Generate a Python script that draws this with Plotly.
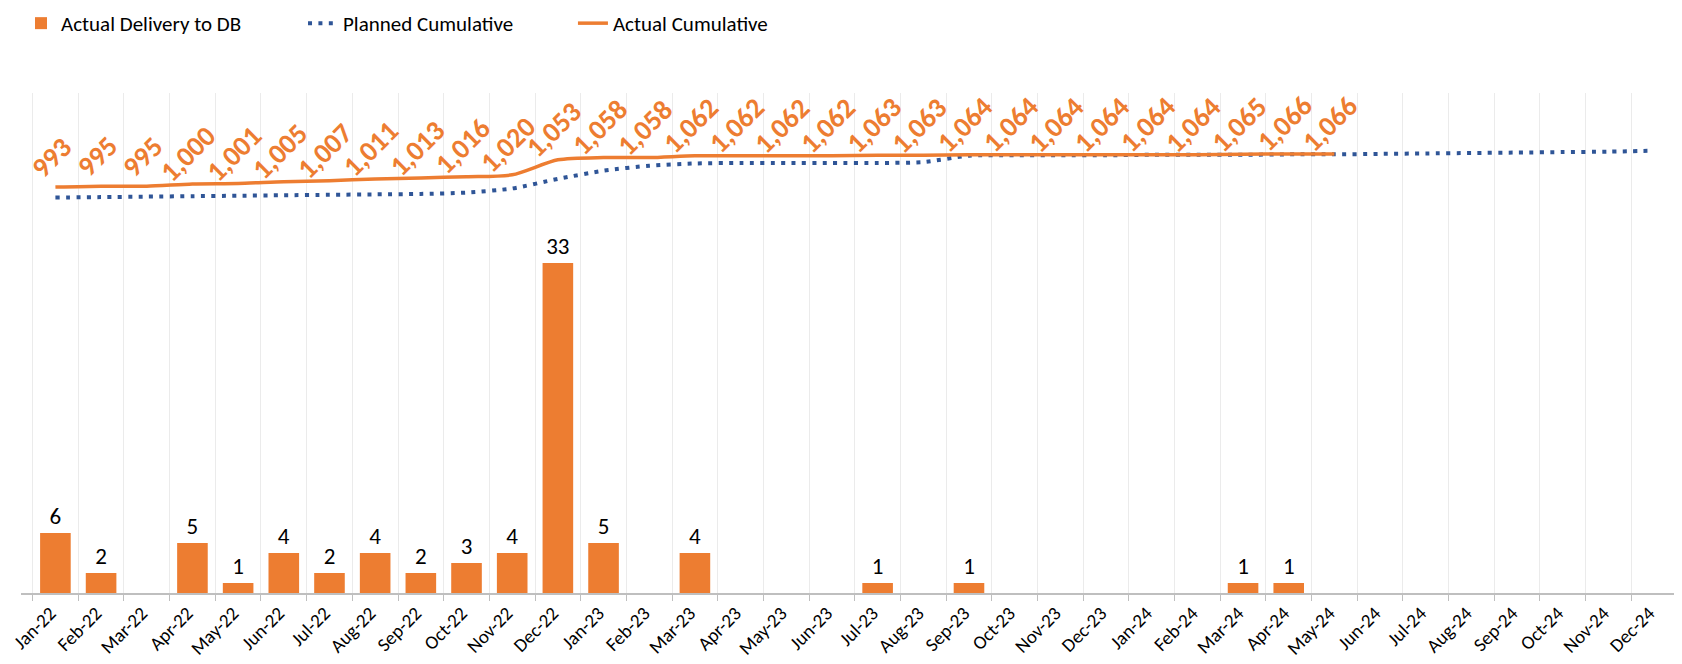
import plotly.graph_objects as go

months = ["Jan-22","Feb-22","Mar-22","Apr-22","May-22","Jun-22","Jul-22","Aug-22","Sep-22","Oct-22","Nov-22","Dec-22",
          "Jan-23","Feb-23","Mar-23","Apr-23","May-23","Jun-23","Jul-23","Aug-23","Sep-23","Oct-23","Nov-23","Dec-23",
          "Jan-24","Feb-24","Mar-24","Apr-24","May-24","Jun-24","Jul-24","Aug-24","Sep-24","Oct-24","Nov-24","Dec-24"]

delivery = [6, 2, None, 5, 1, 4, 2, 4, 2, 3, 4, 33,
            5, None, 4, None, None, None, 1, None, 1, None, None, None,
            None, None, 1, 1, None, None, None, None, None, None, None, None]

actual_cum = [993, 995, 995, 1000, 1001, 1005, 1007, 1011, 1013, 1016, 1020, 1053,
              1058, 1058, 1062, 1062, 1062, 1062, 1063, 1063, 1064, 1064, 1064, 1064,
              1064, 1064, 1065, 1066, 1066]

planned_cum = [970, 971, 972, 973, 974, 975, 976, 977, 978, 981, 990, 1011,
               1029, 1040, 1045, 1046, 1046, 1046, 1046, 1048, 1062, 1063, 1063, 1063,
               1064, 1064, 1064, 1065, 1065, 1066, 1067, 1068, 1069, 1070, 1071, 1073]

ORANGE = "#ED7D31"
BLUE = "#2F5597"
FONT = "Carlito, Calibri, 'Liberation Sans Narrow', 'Liberation Sans', sans-serif"

fig = go.Figure()

fig.add_trace(go.Bar(
    x=months, y=delivery, name="Actual Delivery to DB",
    marker=dict(color=ORANGE, line=dict(width=0)),
    text=[str(v) if v is not None else "" for v in delivery],
    textposition="outside", textfont=dict(size=23, color="#000000", family=FONT),
    cliponaxis=False, yaxis="y", legend="legend"
))

fig.add_trace(go.Scatter(
    x=months, y=planned_cum, name="Planned Cumulative", mode="lines",
    line=dict(color=BLUE, width=4, dash="4px,6.4px", shape="spline", smoothing=0.7),
    yaxis="y2", legend="legend2"
))

fig.add_trace(go.Scatter(
    x=months[:len(actual_cum)], y=actual_cum, name="Actual Cumulative", mode="lines",
    line=dict(color=ORANGE, width=3.5, shape="spline", smoothing=0.7),
    yaxis="y2", legend="legend3"
))

annotations = []
for m, v in zip(months, actual_cum):
    annotations.append(dict(
        x=m, y=v, xref="x", yref="y2", text=f"{v:,}", showarrow=False,
        textangle=-45, xanchor="center", yanchor="middle", yshift=30, xshift=-4,
        font=dict(size=28, color=ORANGE, family=FONT, weight="bold")
    ))

leg_common = dict(orientation="h", y=1.18, xanchor="left", yanchor="top",
                  font=dict(size=21, color="#000000", family=FONT), itemwidth=30,
                  bgcolor="rgba(0,0,0,0)")

fig.update_layout(
    width=1682, height=664,
    margin=dict(l=13, r=13, t=85, b=79, autoexpand=False),
    paper_bgcolor="white", plot_bgcolor="white",
    bargap=0.33,
    font=dict(family=FONT, color="#000000"),
    showlegend=True,
    legend=dict(x=0.0, **leg_common),
    legend2=dict(x=0.1703, **leg_common),
    legend3=dict(x=0.3333, **leg_common),
    annotations=annotations,
    xaxis=dict(type="category", categoryorder="array", categoryarray=months,
               tickangle=-45, tickson="boundaries", ticks="outside", ticklen=6,
               tickcolor="#BFBFBF", showline=True, linecolor="#BFBFBF", linewidth=1.5,
               showgrid=True, gridcolor="#EBEBEB", gridwidth=1, ticklabelshift=-5,
               tickfont=dict(size=19, color="#000000", family=FONT)),
    yaxis=dict(range=[0, 50], visible=False, showgrid=False, zeroline=False),
    yaxis2=dict(range=[100, 1200], overlaying="y", side="right", visible=False,
                showgrid=False, zeroline=False),
)

fig.write_html("out.html")
